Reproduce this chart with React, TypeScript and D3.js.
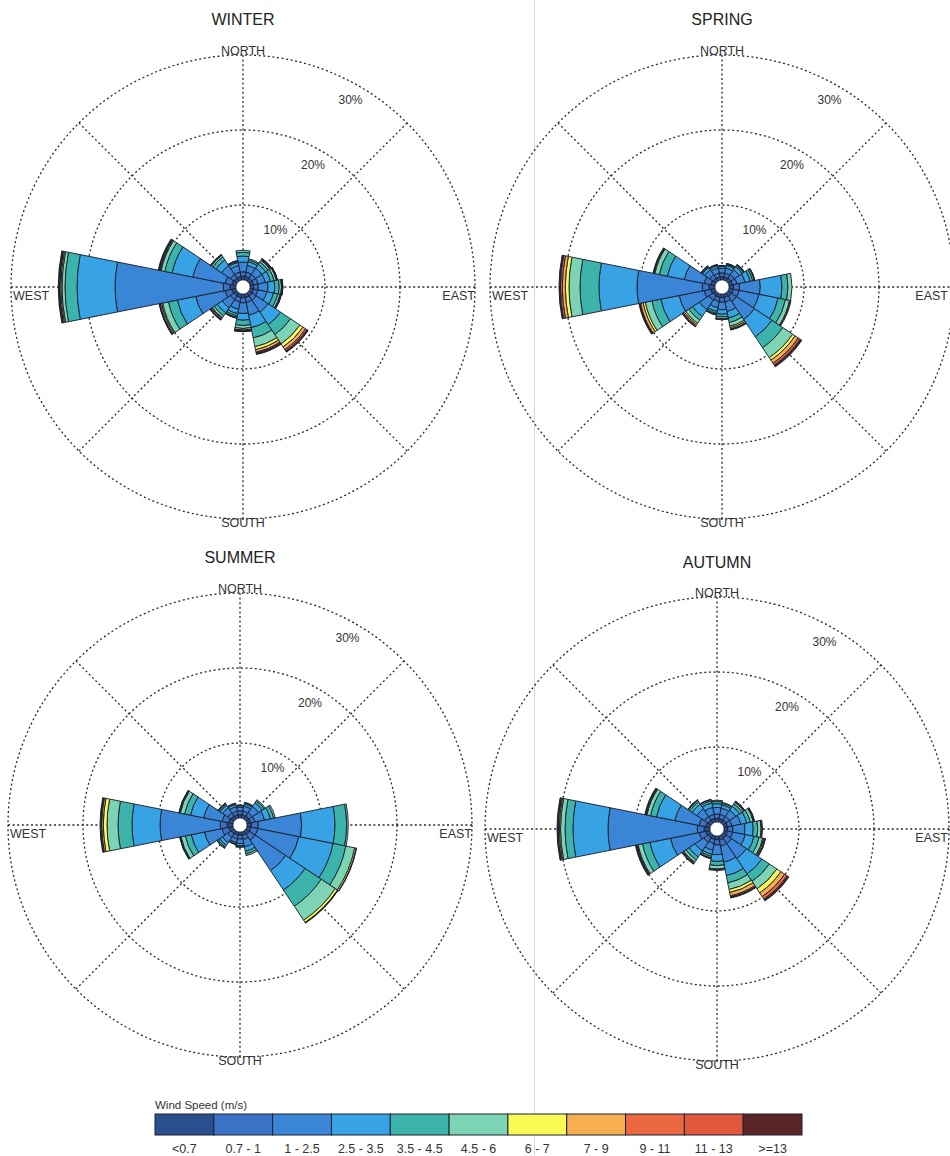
import React from 'react';
import * as d3 from 'd3';

const directions = ['N', 'NNE', 'NE', 'ENE', 'E', 'ESE', 'SE', 'SSE', 'S', 'SSW', 'SW', 'WSW', 'W', 'WNW', 'NW', 'NNW'];
const speedBins = ['<0.7', '0.7 - 1', '1 - 2.5', '2.5 - 3.5', '3.5 - 4.5', '4.5 - 6', '6 - 7', '7 - 9', '9 - 11', '11 - 13', '>=13'];
const binColors = ['#2a4f8e', '#3b72c6', '#3a85d5', '#37a3e5', '#3db4ab', '#7dd4b4', '#fafa55', '#f6ae4e', '#ec6840', '#e2583c', '#5a2528'];
const ringTicks = [10, 20, 30];
const compassLabels = ['NORTH', 'EAST', 'SOUTH', 'WEST'];

// frequency (%) per direction (rows, N clockwise) and speed bin (columns)
const winter = [
  [0.5, 0.6, 1.3, 0.8, 0.5, 0.27, 0, 0, 0, 0, 0],
  [0.5, 0.6, 0.9, 0.5, 0.25, 0.16, 0, 0, 0, 0, 0],
  [0.5, 0.6, 1.0, 0.6, 0.4, 0.25, 0.1, 0.1, 0.05, 0, 0.05],
  [0.5, 0.6, 1.0, 0.7, 0.5, 0.3, 0.06, 0.05, 0.03, 0, 0.02],
  [0.5, 0.6, 1.3, 0.9, 0.6, 0.3, 0.08, 0.06, 0.03, 0, 0.03],
  [0.5, 0.6, 1.2, 0.9, 0.6, 0.3, 0.08, 0.06, 0.02, 0, 0.03],
  [0.5, 0.7, 1.9, 2.0, 1.6, 1.5, 0.5, 0.4, 0.22, 0.12, 0.08],
  [0.5, 0.7, 1.7, 1.7, 1.4, 1.2, 0.4, 0.34, 0.12, 0.1, 0.08],
  [0.5, 0.7, 1.4, 0.9, 0.7, 0.4, 0.2, 0.14, 0.05, 0, 0.05],
  [0.5, 0.6, 1.0, 0.6, 0.3, 0.2, 0.05, 0.04, 0, 0, 0.04],
  [0.5, 0.6, 1.3, 0.8, 0.5, 0.3, 0.1, 0.15, 0.1, 0, 0.05],
  [0.6, 0.9, 4.0, 2.5, 1.2, 0.8, 0.15, 0.18, 0.1, 0, 0.05],
  [0.8, 0.9, 14.43, 5.07, 1.6, 0.4, 0.15, 0.15, 0.08, 0.02, 0.1],
  [0.6, 0.9, 4.4, 2.8, 1.0, 0.5, 0.12, 0.12, 0.05, 0, 0.1],
  [0.5, 0.6, 1.4, 0.9, 0.5, 0.25, 0.05, 0.05, 0, 0, 0.04],
  [0.5, 0.6, 0.9, 0.4, 0.15, 0.1, 0, 0, 0, 0, 0.04],
];

const spring = [
  [0.45, 0.5, 0.6, 0.25, 0.1, 0.05, 0, 0, 0, 0, 0],
  [0.45, 0.5, 0.7, 0.35, 0.15, 0.08, 0.02, 0.02, 0, 0, 0],
  [0.5, 0.55, 0.8, 0.45, 0.2, 0.12, 0.04, 0.03, 0, 0, 0],
  [0.5, 0.6, 1.1, 0.7, 0.35, 0.2, 0.05, 0.05, 0, 0, 0],
  [0.6, 0.8, 2.77, 2.9, 0.8, 0.53, 0, 0, 0, 0, 0],
  [0.6, 0.8, 2.7, 2.6, 1.0, 0.55, 0.1, 0.1, 0, 0, 0],
  [0.6, 0.8, 2.87, 2.8, 1.73, 1.6, 0.4, 0.5, 0.3, 0.12, 0.15],
  [0.5, 0.6, 1.3, 0.9, 0.6, 0.5, 0.2, 0.2, 0.05, 0, 0.08],
  [0.5, 0.6, 1.0, 0.6, 0.35, 0.25, 0.07, 0.07, 0, 0, 0],
  [0.5, 0.55, 0.85, 0.5, 0.25, 0.15, 0.05, 0.06, 0, 0, 0],
  [0.5, 0.7, 1.5, 1.1, 0.6, 0.5, 0.2, 0.2, 0.07, 0, 0.1],
  [0.6, 0.9, 3.4, 2.5, 1.2, 0.9, 0.3, 0.35, 0.1, 0.02, 0.1],
  [0.8, 0.9, 8.7, 5.07, 2.53, 1.47, 0.49, 0.4, 0.25, 0.09, 0.1],
  [0.6, 0.9, 2.7, 2.3, 1.1, 0.6, 0.1, 0.05, 0, 0, 0.1],
  [0.5, 0.55, 0.8, 0.35, 0.15, 0.08, 0, 0, 0, 0, 0.05],
  [0.45, 0.5, 0.7, 0.3, 0.13, 0.08, 0, 0, 0, 0, 0],
];

const summer = [
  [0.45, 0.5, 0.5, 0.2, 0.06, 0.02, 0, 0, 0, 0, 0],
  [0.45, 0.5, 0.7, 0.3, 0.15, 0.06, 0, 0, 0, 0, 0],
  [0.5, 0.55, 1.0, 0.6, 0.3, 0.17, 0, 0, 0, 0, 0],
  [0.5, 0.6, 1.3, 0.8, 0.45, 0.22, 0, 0, 0, 0, 0],
  [0.6, 0.9, 5.79, 4.44, 1.56, 0.21, 0, 0, 0, 0, 0],
  [0.6, 0.9, 5.57, 4.66, 1.74, 1.2, 0.2, 0.06, 0, 0, 0],
  [0.6, 0.9, 4.9, 3.1, 2.6, 2.25, 0.35, 0.05, 0, 0, 0.05],
  [0.5, 0.55, 1.0, 0.6, 0.35, 0.23, 0, 0, 0, 0, 0],
  [0.45, 0.5, 0.6, 0.3, 0.14, 0.06, 0, 0, 0, 0, 0],
  [0.45, 0.5, 0.5, 0.2, 0.06, 0.02, 0, 0, 0, 0, 0],
  [0.5, 0.55, 0.85, 0.45, 0.25, 0.15, 0.03, 0, 0, 0, 0.02],
  [0.6, 0.9, 2.4, 1.8, 0.8, 0.6, 0.1, 0.05, 0, 0, 0.03],
  [0.8, 0.9, 8.03, 3.74, 1.86, 1.47, 0.49, 0.22, 0.1, 0, 0.12],
  [0.6, 0.9, 2.5, 1.8, 0.8, 0.6, 0.1, 0.05, 0, 0, 0.04],
  [0.5, 0.55, 0.8, 0.4, 0.2, 0.1, 0.02, 0, 0, 0, 0.02],
  [0.45, 0.5, 0.6, 0.3, 0.14, 0.06, 0, 0, 0, 0, 0],
];

const autumn = [
  [0.5, 0.55, 0.9, 0.5, 0.3, 0.16, 0, 0, 0, 0, 0],
  [0.5, 0.55, 0.85, 0.45, 0.22, 0.12, 0, 0, 0, 0, 0],
  [0.5, 0.6, 1.0, 0.6, 0.4, 0.25, 0.05, 0.1, 0, 0, 0.05],
  [0.5, 0.6, 1.2, 0.8, 0.5, 0.4, 0.05, 0.1, 0, 0, 0.04],
  [0.5, 0.7, 1.6, 1.1, 0.6, 0.45, 0.1, 0.1, 0, 0, 0],
  [0.5, 0.7, 1.7, 1.2, 0.7, 0.5, 0.12, 0.16, 0, 0, 0.1],
  [0.6, 0.8, 2.39, 2.48, 1.2, 1.2, 0.64, 0.6, 0.4, 0.14, 0.14],
  [0.6, 0.8, 2.2, 1.8, 1.0, 0.9, 0.4, 0.45, 0.18, 0.02, 0.1],
  [0.5, 0.7, 1.3, 0.9, 0.55, 0.45, 0.1, 0.11, 0, 0, 0],
  [0.5, 0.55, 0.9, 0.55, 0.3, 0.2, 0.05, 0.03, 0, 0, 0.04],
  [0.5, 0.7, 1.4, 0.95, 0.5, 0.35, 0.1, 0.12, 0, 0, 0.1],
  [0.6, 0.9, 3.9, 2.8, 1.0, 0.6, 0.1, 0.1, 0.06, 0, 0.1],
  [0.8, 0.9, 11.9, 4.67, 1.06, 0.6, 0.15, 0.15, 0.07, 0, 0.1],
  [0.6, 0.9, 3.3, 2.5, 0.8, 0.5, 0.1, 0.08, 0, 0, 0.1],
  [0.5, 0.6, 1.2, 0.75, 0.4, 0.2, 0.04, 0.03, 0, 0, 0.04],
  [0.5, 0.55, 0.95, 0.6, 0.3, 0.17, 0, 0, 0, 0, 0.05],
];

const seasonNames = ['WINTER', 'SPRING', 'SUMMER', 'AUTUMN'];
const seasonData = [winter, spring, summer, autumn];

// layout
const W = 950;
const H = 1156;
const panels = [
  { cx: 243, cy: 287, titleY: 25 },
  { cx: 722, cy: 287, titleY: 25 },
  { cx: 240, cy: 825, titleY: 563 },
  { cx: 717, cy: 829, titleY: 568 },
];
const HOLE = 7;
const RMAX = 232;
const FONT = "'Liberation Sans', Arial, Helvetica, sans-serif";
const GRID = '#2a2a2a';

const rScale = d3.scaleLinear().domain([0, 30]).range([HOLE, RMAX]);
const arcGen = d3.arc<any>();
const sector = (2 * Math.PI) / directions.length;

function Rose({ name, data, cx, cy, titleY }: any) {
  const petals: any[] = [];
  data.forEach((row: number[], i: number) => {
    const a = i * sector;
    let cum = 0;
    row.forEach((v: number, j: number) => {
      if (v <= 0) return;
      const d = arcGen({
        innerRadius: rScale(cum),
        outerRadius: rScale(cum + v),
        startAngle: a - sector / 2,
        endAngle: a + sector / 2,
      });
      cum += v;
      petals.push(
        <path key={`${i}-${j}`} d={d as string} fill={binColors[j]} stroke="#1b2230" strokeWidth={0.95} strokeLinejoin="round" />
      );
    });
  });

  const spokes = d3.range(8).map((k) => {
    const ang = (k * Math.PI) / 4;
    return (
      <line key={k} x1={0} y1={0} x2={RMAX * Math.sin(ang)} y2={-RMAX * Math.cos(ang)}
        stroke={GRID} strokeWidth={1.3} strokeDasharray="2,2.6" />
    );
  });

  const labAng = (30 * Math.PI) / 180;
  const eastEnd = Math.min(cx + RMAX, W - 2) - cx;

  return (
    <g>
      <text x={cx} y={titleY} textAnchor="middle" fontFamily={FONT} fontSize={16} fill="#222">{name}</text>
      <g transform={`translate(${cx},${cy})`}>
        {ringTicks.map((t) => (
          <circle key={t} r={rScale(t)} fill="none" stroke={GRID} strokeWidth={1.3} strokeDasharray="2,2.6" />
        ))}
        {spokes}
        {petals}
        <circle r={HOLE} fill="#fff" stroke="#1b2230" strokeWidth={0.6} />
        {ringTicks.map((t) => {
          const rr = rScale(t) - 17;
          return (
            <text key={t} x={rr * Math.sin(labAng)} y={-rr * Math.cos(labAng)} textAnchor="middle" dominantBaseline="middle"
              fontFamily={FONT} fontSize={12} fill="#333">{`${t}%`}</text>
          );
        })}
        <text x={0} y={-RMAX} textAnchor="middle" fontFamily={FONT} fontSize={12.5} fill="#333">{compassLabels[0]}</text>
        <text x={eastEnd} y={13} textAnchor="end" fontFamily={FONT} fontSize={12.5} fill="#333">{compassLabels[1]}</text>
        <text x={0} y={RMAX + 8} textAnchor="middle" fontFamily={FONT} fontSize={12.5} fill="#333">{compassLabels[2]}</text>
        <text x={-RMAX + 2} y={13} textAnchor="start" fontFamily={FONT} fontSize={12.5} fill="#333">{compassLabels[3]}</text>
      </g>
    </g>
  );
}

function Legend() {
  const x0 = 155;
  const x1 = 802;
  const y = 1114;
  const h = 21;
  const band = d3.scaleBand<string>().domain(speedBins).range([x0, x1]).padding(0);
  return (
    <g>
      <text x={x0} y={1109} fontFamily={FONT} fontSize={11.5} fill="#333">Wind Speed (m/s)</text>
      {speedBins.map((b, j) => (
        <rect key={b} x={band(b)} y={y} width={band.bandwidth()} height={h} fill={binColors[j]} stroke="#1b2230" strokeWidth={1} />
      ))}
      {speedBins.map((b) => (
        <text key={b} x={(band(b) as number) + band.bandwidth() / 2} y={1153} textAnchor="middle" fontFamily={FONT} fontSize={12.5} fill="#333">{b}</text>
      ))}
    </g>
  );
}

export default function App() {
  return (
    <svg width={W} height={H} viewBox={`0 0 ${W} ${H}`} style={{ position: 'absolute', left: 0, top: 0, background: '#fff' }}>
      <rect width={W} height={H} fill="#fff" />
      <line x1={534.5} y1={0} x2={534.5} y2={H} stroke="#d6d6d6" strokeWidth={1} />
      {seasonNames.map((n, k) => (
        <Rose key={n} name={n} data={seasonData[k]} {...panels[k]} />
      ))}
      <Legend />
    </svg>
  );
}
